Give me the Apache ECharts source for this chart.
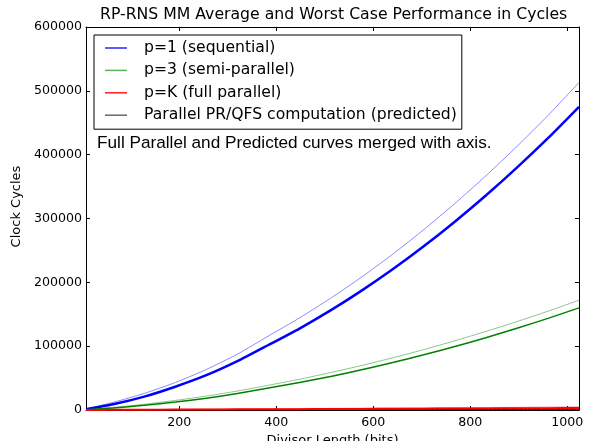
<!DOCTYPE html>
<html>
<head>
<meta charset="utf-8">
<script src="https://cdn.jsdelivr.net/npm/echarts@6/dist/echarts.min.js"></script>
<style>
html,body{margin:0;padding:0;background:#fff;}
#chart{width:590px;height:441px;}
</style>
</head>
<body>
<div id="chart"></div>
<script>
// Divisor length (bits) sample points
var bits = [8, 64, 128, 192, 256, 320, 384, 448, 512, 576, 640, 704, 768, 832, 896, 960, 1024];
// p=1 (sequential): average and worst case
var seqAvg   = [1200, 9000, 21000, 36500, 54500, 76500, 101800, 127600, 156000, 187000, 220400, 256400, 295000, 336000, 379700, 425800, 475000];
var seqWorst = [1500, 12000, 26000, 43000, 63500, 87500, 116000, 144200, 175000, 208200, 244100, 282500, 323400, 366800, 412800, 461300, 513000];
// p=3 (semi-parallel): average and worst case
var semiAvg   = [400, 3300, 7300, 12500, 18500, 25800, 34300, 43000, 52600, 63000, 74300, 86400, 99400, 113200, 128000, 143500, 160000];
var semiWorst = [500, 4100, 9000, 15000, 21800, 29700, 38800, 48200, 58600, 69700, 81800, 94600, 108400, 123000, 138500, 154700, 172000];
// p=K (full parallel): average and worst case
var fullAvg   = [30, 200, 400, 590, 780, 980, 1170, 1370, 1560, 1760, 1960, 2150, 2350, 2540, 2740, 2930, 3120];
var fullWorst = [40, 300, 600, 900, 1200, 1500, 1800, 2100, 2400, 2700, 3000, 3300, 3600, 3900, 4200, 4500, 4800];
// Parallel PR/QFS computation (predicted)
var predicted = [10, 60, 120, 180, 240, 300, 360, 420, 480, 540, 600, 660, 720, 780, 840, 900, 960];

var xTicks = [200, 400, 600, 800, 1000];
var legendNames = ['p=1 (sequential)', 'p=3 (semi-parallel)', 'p=K (full parallel)', 'Parallel PR/QFS computation (predicted)'];
var titleText = 'RP-RNS MM Average and Worst Case Performance in Cycles';
var noteText = 'Full Parallel and Predicted curves merged with axis.';

function pairs(ys){ return bits.map(function(b,i){ return [b, ys[i]]; }); }

var FONT = 'DejaVu Sans';
var chart = echarts.init(document.getElementById('chart'), null, {renderer:'canvas'});

function mkLine(name, ys, color, width, opacity, z){
  return {
    name: name, type: 'line', data: pairs(ys), showSymbol: false, symbol: 'none',
    smooth: 0.2, animation: false, z: z,
    lineStyle: {color: color, width: width, opacity: opacity},
    itemStyle: {color: color}
  };
}
function plain(v){ return String(v); }

var option = {
  animation: false,
  backgroundColor: '#fff',
  title: {
    text: titleText, left: 100, top: 7, padding: 0,
    textStyle: {fontFamily: FONT, fontSize: 15.7, fontWeight: 'normal', color: '#000'}
  },
  grid: {left: 86, right: 11, top: 27, bottom: 31, containLabel: false, outerBoundsMode: 'none'},
  legend: {
    orient: 'vertical', left: 94, top: 35,
    padding: [4, 5, 5, 11], itemGap: 4.4,
    borderColor: '#000', borderWidth: 1, backgroundColor: '#fff',
    icon: 'rect', itemWidth: 22, itemHeight: 1.5,
    selectedMode: false,
    textStyle: {fontFamily: FONT, fontSize: 15.6, color: '#000', lineHeight: 18, padding: [0,0,0,12]},
    data: [
      {name: legendNames[0], itemStyle: {color: '#2a2aff'}},
      {name: legendNames[1], itemStyle: {color: '#5fb05f'}},
      {name: legendNames[2], itemStyle: {color: '#ff2020'}},
      {name: legendNames[3], itemStyle: {color: '#6a6a6a'}}
    ]
  },
  xAxis: [{
    type: 'value', min: 8, max: 1024, position: 'bottom',
    name: 'Divisor Length (bits)', nameLocation: 'middle', nameGap: 16,
    nameTextStyle: {fontFamily: FONT, fontSize: 13, color: '#000'},
    axisLine: {show: true, onZero: false, lineStyle: {color: '#000', width: 1}},
    axisTick: {show: true, inside: true, length: 4, customValues: xTicks, lineStyle: {color: '#000'}},
    axisLabel: {show: true, customValues: xTicks, formatter: plain, fontFamily: FONT, fontSize: 12.6, color: '#000', margin: 6},
    splitLine: {show: false}
  }, {
    type: 'value', min: 8, max: 1024, position: 'top',
    axisLine: {show: true, onZero: false, lineStyle: {color: '#000', width: 1}},
    axisTick: {show: true, inside: true, length: 4, customValues: xTicks, lineStyle: {color: '#000'}},
    axisLabel: {show: false},
    splitLine: {show: false}
  }],
  yAxis: [{
    type: 'value', min: 0, max: 600000, interval: 100000, position: 'left',
    name: 'Clock Cycles', nameLocation: 'middle', nameGap: 52,
    nameTextStyle: {fontFamily: FONT, fontSize: 13, color: '#000', padding: [0, 0, 0, 24]},
    axisLine: {show: true, onZero: false, lineStyle: {color: '#000', width: 1}},
    axisTick: {show: true, inside: true, length: 4, lineStyle: {color: '#000'}},
    axisLabel: {fontFamily: FONT, fontSize: 12.6, color: '#000', margin: 4, formatter: plain},
    splitLine: {show: false}
  }, {
    type: 'value', min: 0, max: 600000, interval: 100000, position: 'right',
    axisLine: {show: true, onZero: false, lineStyle: {color: '#000', width: 1}},
    axisTick: {show: true, inside: true, length: 4, lineStyle: {color: '#000'}},
    axisLabel: {show: false},
    splitLine: {show: false}
  }],
  graphic: [{
    type: 'text', left: 97, top: 135, z: 100,
    style: {text: noteText, fontFamily: 'Liberation Sans', fontSize: 17.2, fill: '#000'}
  }],
  series: [
    mkLine(legendNames[0], seqWorst, '#0000ff', 1, 0.45, 2),
    mkLine(legendNames[0], seqAvg, '#0000ff', 2.5, 1, 3),
    mkLine(legendNames[1], semiWorst, '#008000', 1, 0.45, 2),
    mkLine(legendNames[1], semiAvg, '#008000', 1.5, 1, 3),
    mkLine(legendNames[3], predicted, '#000000', 1, 1, 2),
    mkLine(legendNames[2], fullWorst, '#ff0000', 1, 0.45, 3),
    mkLine(legendNames[2], fullAvg, '#ff0000', 2, 1, 4)
  ]
};
chart.setOption(option);
</script>
</body>
</html>
